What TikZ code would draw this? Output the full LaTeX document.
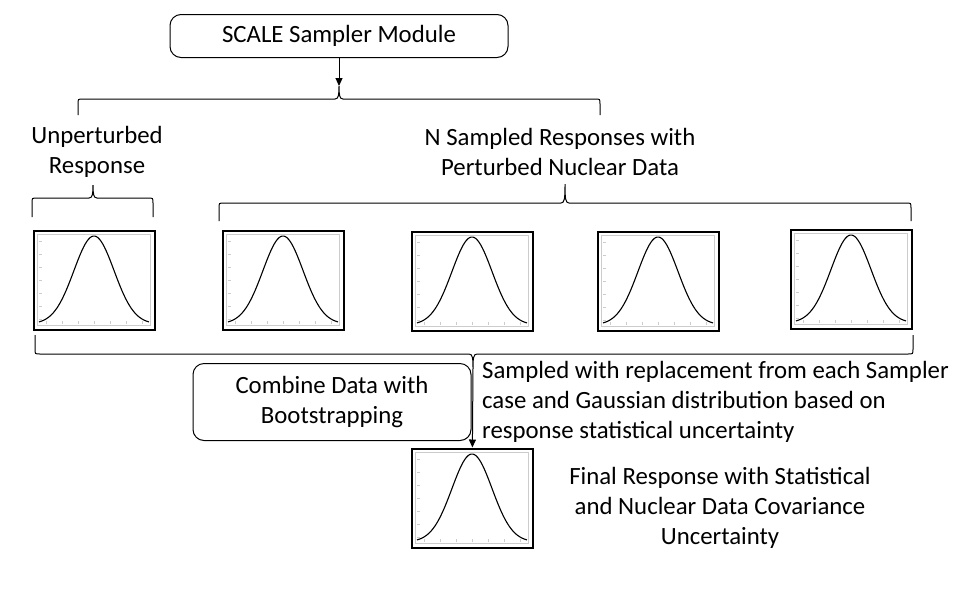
\documentclass[tikz,border=0pt]{standalone}
\usepackage{fontspec}
\setmainfont{Carlito}
\usetikzlibrary{arrows.meta,positioning}

% curly brace: x left, x right, x tip, y line, y ends, y tip
\newcommand{\curlybrace}[6]{%
	\pgfmathsetmacro\ycA{#4+5*(#5-#4)/abs(#5-#4)}%
	\pgfmathsetmacro\ycB{#4+4*(#6-#4)/abs(#6-#4)}%
	\draw[brc] (#1,#5) -- (#1,\ycA) .. controls (#1,#4) .. (#1+5,#4) -- (#3-4,#4)
		.. controls (#3-0.5,#4) and (#3,\ycB) .. (#3,#6)
		.. controls (#3,\ycB) and (#3+0.5,#4) .. (#3+4,#4) -- (#2-5,#4)
		.. controls (#2,#4) .. (#2,\ycA) -- (#2,#5);}

\begin{document}
\begin{tikzpicture}
	[x=1pt,y=-1pt,every node/.style={font=\fontsize{24.8}{30}\selectfont},
	txt/.style={align=center,inner sep=0pt},
	roundbox/.style={draw,rounded corners=11pt,line width=1pt,align=center},
	plotbox/.style={draw,line width=2pt,minimum width=121pt,minimum height=99pt,inner sep=0pt},
	brc/.style={line width=1pt},
	arr/.style={-{Triangle[length=8pt,width=7pt]},line width=1pt}]

	\useasboundingbox (0,0) rectangle (955,598);

	\node[roundbox,minimum width=338pt,minimum height=43pt] (scale) at (339,36) {SCALE Sampler Module};
	\node[txt] (unp) at (97,152) {Unperturbed\\Response};
	\node[txt] (nsamp) at (560,152) {N Sampled Responses with\\Perturbed Nuclear Data};

	\node[plotbox] (p0) at (94,280) {};
	\node[plotbox] (p1) at (283,280) {};
	\node[plotbox] (p2) at (472,281) {};
	\node[plotbox] (p3) at (658,281) {};
	\node[plotbox] (p4) at (851,279) {};
	\node[plotbox] (fin) at (472,498) {};

	\node[roundbox,minimum width=278pt,minimum height=77pt] (comb) at (332,402) {Combine Data with\\Bootstrapping};
	\node[txt,align=left,anchor=west] (samp) at (482,402) {Sampled with replacement from each Sampler\\case and Gaussian distribution based on\\response statistical uncertainty};
	\node[txt] (finT) at (720,508) {Final Response with Statistical\\and Nuclear Data Covariance\\Uncertainty};

	% gaussian in each box
	\foreach \p in {p0,p1,p2,p3,p4,fin} {
		\draw[gray!40,line width=0.8pt] ([xshift=5pt,yshift=-5pt]\p.north west) rectangle ([xshift=-5pt,yshift=5pt]\p.south east);
		\foreach \t in {-3,...,3}
			\draw[gray!40,line width=0.5pt,shift={(\p.center)}] (\t*16,44) -- (\t*16,41) (-55,\t*13) -- (-52,\t*13);
		\draw[line width=1.1pt,shift={(\p.center)}] plot[domain=-1:1,samples=70,smooth] ({55*\x},{44-88*exp(-(\x)^2/0.2664)});
	}

	% braces
	\curlybrace{78}{600}{339}{99}{115}{86}
	\curlybrace{32}{153}{93}{198}{217}{185}
	\curlybrace{219}{911}{565}{203}{221}{184}
	\curlybrace{35}{913}{473}{354}{335}{368}
	\coordinate (topTip) at (339,86);
	\coordinate (botTip) at (473,368);

	\draw[arr] (scale) -- (topTip);
	\draw[arr] (botTip) -- (fin);
\end{tikzpicture}
\end{document}
